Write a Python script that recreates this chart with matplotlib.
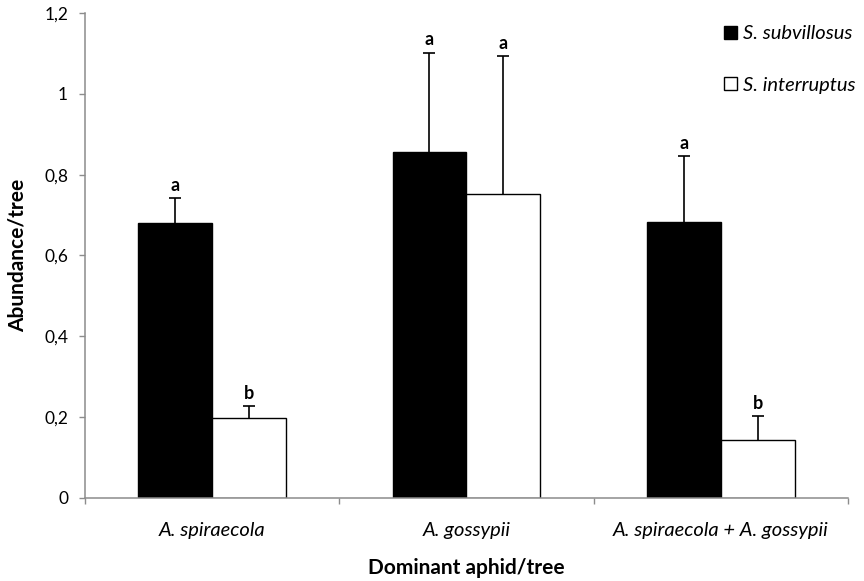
import numpy as np
import matplotlib as mpl

mpl.use("Agg")
import matplotlib.pyplot as plt
from matplotlib.patches import Patch
from matplotlib.ticker import FixedLocator, FuncFormatter

plt.rcParams["font.family"] = ["Lato", "DejaVu Sans"]

categories = ["A. spiraecola", "A. gossypii", "A. spiraecola + A. gossypii"]
series_names = ["S. subvillosus", "S. interruptus"]
subvillosus = [0.681, 0.857, 0.684]
subvillosus_err = [0.060, 0.245, 0.161]
interruptus = [0.198, 0.751, 0.143]
interruptus_err = [0.029, 0.343, 0.060]
sub_letters = ["a", "a", "a"]
int_letters = ["b", "a", "b"]

axis_grey = "#8c8c8c"

fig = plt.figure(figsize=(8.64, 5.81), dpi=100)
ax = fig.add_axes([0.098, 0.143, 0.8835, 0.8346])

x = np.arange(len(categories))
w = 0.29

ax.bar(x - w / 2, subvillosus, w, color="black", edgecolor="black", linewidth=1.0)
ax.bar(x + w / 2, interruptus, w, color="white", edgecolor="black", linewidth=1.0)

# upper-only error bars, excel style (hide the lower cap)
for xs, vals, errs in ((x - w / 2, subvillosus, subvillosus_err),
                       (x + w / 2, interruptus, interruptus_err)):
    eb = ax.errorbar(xs, vals, yerr=[np.zeros(len(errs)), errs], fmt="none",
                     ecolor="black", elinewidth=1.2, capsize=4.5, capthick=1.2)
    eb[1][0].set_visible(False)

for xs, vals, errs, letters in ((x - w / 2, subvillosus, subvillosus_err, sub_letters),
                                (x + w / 2, interruptus, interruptus_err, int_letters)):
    for xi, v, e, t in zip(xs, vals, errs, letters):
        ax.annotate(t, (xi, v + e), xytext=(0, 3), textcoords="offset points",
                    ha="center", va="bottom", fontsize=13, fontweight="bold")

ax.set_xlim(-0.5, len(categories) - 0.5)
ax.set_ylim(0, 1.2)

ax.yaxis.set_major_locator(FixedLocator(np.arange(0, 1.21, 0.2)))
ax.yaxis.set_major_formatter(FuncFormatter(lambda v, p: f"{v:.1f}".rstrip("0").rstrip(".").replace(".", ",")))

ax.set_xticks(np.arange(-0.5, len(categories), 1.0))
ax.set_xticklabels([])
ax.set_xticks(x, minor=True)
ax.set_xticklabels(categories, minor=True, style="italic")
ax.tick_params(axis="x", which="minor", length=0, pad=17, labelsize=14.5)
ax.tick_params(axis="x", which="major", length=4.5, color=axis_grey, width=1)
ax.tick_params(axis="y", length=4, color=axis_grey, width=1, pad=8, labelsize=12.5)

for side in ("top", "right"):
    ax.spines[side].set_visible(False)
for side in ("left", "bottom"):
    ax.spines[side].set_color(axis_grey)
    ax.spines[side].set_linewidth(1.1)

ax.set_xlabel("Dominant aphid/tree", fontweight="bold", fontsize=15, labelpad=14)
ax.set_ylabel("Abundance/tree", fontweight="bold", fontsize=15, labelpad=12)

handles = [Patch(facecolor="black", edgecolor="black"),
           Patch(facecolor="white", edgecolor="black")]
leg = ax.legend(handles, series_names, loc="upper right", bbox_to_anchor=(1.0, 0.97),
                bbox_transform=fig.transFigure,
                frameon=False, handlelength=0.65, handleheight=0.65, handletextpad=0.3,
                labelspacing=1.7, fontsize=14.5, borderaxespad=0.0)
for t in leg.get_texts():
    t.set_style("italic")

fig.savefig("out.png", dpi=100)
plt.close()
